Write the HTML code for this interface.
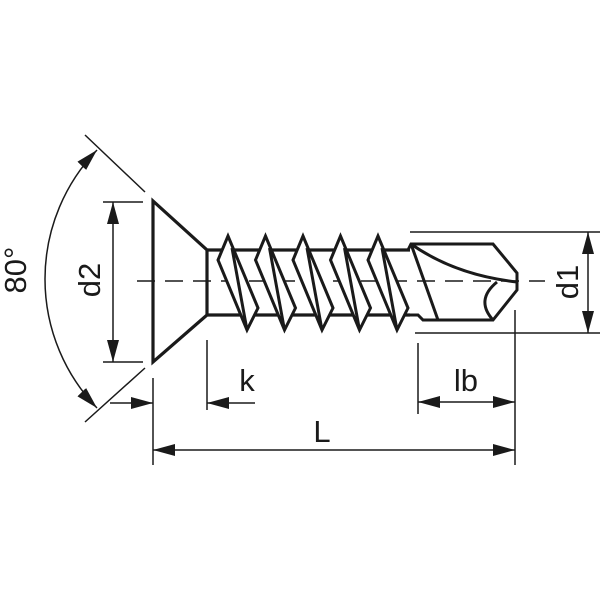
<!DOCTYPE html>
<html><head><meta charset="utf-8"><style>html,body{margin:0;padding:0;background:#fff}svg{display:block}</style></head>
<body>
<svg width="600" height="600" viewBox="0 0 600 600" xmlns="http://www.w3.org/2000/svg">
<defs>
<marker id="a" viewBox="0 0 22 12" refX="22" refY="6" markerWidth="22" markerHeight="12" markerUnits="userSpaceOnUse" orient="auto-start-reverse"><path d="M0,0 L22,6 L0,12 z" fill="#1a1a1a"/></marker>
</defs>
<g stroke="#1a1a1a" fill="none">
<path d="M137,281 H545" stroke-width="1.5" stroke-dasharray="18,10"/>
<path d="M153,201 V362 L207,315 V250 Z M207,250 H410 M207,315 H410" stroke-width="3.2" stroke-linejoin="miter"/>
<g stroke-width="3" fill="#fff" stroke-linejoin="miter">
<path d="M228,236 L218,260 L247,330 L258,308 Z M228,236 L258,308 M232,248 L247,330"/>
<path d="M265.5,236 L255.5,260 L284.5,330 L295.5,308 Z M265.5,236 L295.5,308 M269.5,248 L284.5,330"/>
<path d="M303,236 L293,260 L322,330 L333,308 Z M303,236 L333,308 M307,248 L322,330"/>
<path d="M340.5,236 L330.5,260 L359.5,330 L370.5,308 Z M340.5,236 L370.5,308 M344.5,248 L359.5,330"/>
<path d="M378,236 L368,260 L397,330 L408,308 Z M378,236 L408,308 M382,248 L397,330"/>
</g>
<path d="M405,250 H408 L411,244 H493 L517,273 V290 L493,320 H423 L418,315 H405" stroke-width="3"/>
<path d="M411,244 L438,320 M411,244 Q455,275 517,282 M497,282 Q475,300 493,320" stroke-width="3"/>
<g stroke-width="1.5">
<path d="M85,135 L145,192 M85,422 L145,368"/>
<path d="M97,150 A186,186 0 0 0 97,408" marker-start="url(#a)" marker-end="url(#a)"/>
<path d="M103,202 H143 M103,362 H143"/>
<path d="M113,202 V362" marker-start="url(#a)" marker-end="url(#a)"/>
<path d="M410,232 H600 M415,333 H600"/>
<path d="M588,232 V333" marker-start="url(#a)" marker-end="url(#a)"/>
<path d="M153,378 V465 M207,340 V410 M418,343 V414 M515,310 V465"/>
<path d="M110,403 H153" marker-end="url(#a)"/>
<path d="M255,403 H207" marker-end="url(#a)"/>
<path d="M418,402 H515" marker-start="url(#a)" marker-end="url(#a)"/>
<path d="M153,450 H515" marker-start="url(#a)" marker-end="url(#a)"/>
</g>
</g>
<g font-family="Liberation Sans, sans-serif" font-size="31" fill="#1a1a1a" text-anchor="middle">
<text transform="translate(26,270) rotate(-90)">80°</text>
<text transform="translate(100,280) rotate(-90)">d2</text>
<text transform="translate(578,282) rotate(-90)">d1</text>
<text x="247" y="391">k</text>
<text x="466" y="391">lb</text>
<text x="322" y="442">L</text>
</g>
</svg>
</body></html>
